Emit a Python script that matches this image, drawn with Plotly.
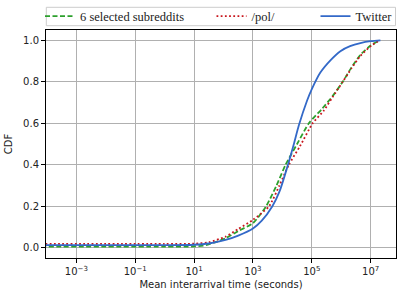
import plotly.graph_objects as go

# log10 of mean interarrival time (seconds) and CDF values
sub_exp = [-4.2, 0.0, 1.0, 1.4, 1.8, 2.07, 2.5, 3.0, 3.45, 3.8, 4.11, 4.5, 4.9, 5.35, 5.7, 6.05, 6.35, 6.65, 7.0, 7.3]
sub_cdf = [0.005, 0.005, 0.006, 0.012, 0.03, 0.045, 0.08, 0.118, 0.2, 0.3, 0.4, 0.5, 0.6, 0.67, 0.73, 0.8, 0.87, 0.93, 0.975, 1.0]

pol_exp = [-4.2, 0.0, 1.0, 1.5, 2.07, 2.5, 3.0, 3.55, 3.9, 4.22, 4.6, 5.03, 5.4, 5.7, 6.05, 6.35, 6.65, 7.0, 7.3]
pol_cdf = [0.018, 0.018, 0.019, 0.026, 0.053, 0.09, 0.134, 0.2, 0.3, 0.4, 0.49, 0.6, 0.66, 0.725, 0.8, 0.865, 0.925, 0.972, 1.0]

tw_exp = [-4.2, 0.0, 1.0, 1.5, 2.07, 2.5, 3.0, 3.3, 3.66, 3.9, 4.19, 4.4, 4.56, 4.84, 5.0, 5.29, 5.64, 5.97, 6.3, 6.65, 7.0, 7.33]
tw_cdf = [0.012, 0.012, 0.014, 0.02, 0.037, 0.058, 0.092, 0.13, 0.2, 0.27, 0.4, 0.505, 0.59, 0.71, 0.765, 0.845, 0.905, 0.948, 0.972, 0.987, 0.996, 1.0]

tick_exp = [-3, -1, 1, 3, 5, 7]
tick_text = ["10<sup>−3</sup>", "10<sup>−1</sup>", "10<sup>1</sup>", "10<sup>3</sup>", "10<sup>5</sup>", "10<sup>7</sup>"]
y_ticks = [0.0, 0.2, 0.4, 0.6, 0.8, 1.0]

names = ["6 selected subreddits", "/pol/", "Twitter"]
colors = ["#2ca02c", "#c8161d", "#3369c8"]

fig = go.Figure()
fig.add_trace(go.Scatter(x=[10 ** e for e in sub_exp], y=sub_cdf, mode="lines", name=names[0],
                         line=dict(color=colors[0], width=1.8, dash="5px,2.5px", shape="spline", smoothing=0.6),
                         legend="legend", showlegend=True))
fig.add_trace(go.Scatter(x=[10 ** e for e in pol_exp], y=pol_cdf, mode="lines", name=names[1],
                         line=dict(color=colors[1], width=1.8, dash="1.8px,2.4px", shape="spline", smoothing=0.6),
                         legend="legend2", showlegend=True))
fig.add_trace(go.Scatter(x=[10 ** e for e in tw_exp], y=tw_cdf, mode="lines", name=names[2],
                         line=dict(color=colors[2], width=1.8, shape="spline", smoothing=0.85),
                         legend="legend3", showlegend=True))

L, R, T, B = 45.7, 396.0, 30.0, 258.0
W, H = 407, 299
pw, ph = R - L, B - T

def px_x(p):
    return (p - L) / pw

def px_y(p):
    return (B - p) / ph

leg_font = dict(family="Liberation Serif, Times New Roman, serif", size=12.5, color="#222")
leg_common = dict(orientation="h", bgcolor="rgba(0,0,0,0)", borderwidth=0, font=leg_font,
                  xref="container", yref="container",
                  yanchor="middle", xanchor="left", y=1 - 16.5 / H)

fig.update_layout(
    width=W, height=H,
    margin=dict(l=L, r=W - R, t=T, b=H - B, pad=0, autoexpand=False),
    paper_bgcolor="white", plot_bgcolor="white",
    font=dict(family="DejaVu Sans", size=10, color="#222"),
    showlegend=True,
    legend=dict(x=40 / W, **leg_common),
    legend2=dict(x=211.5 / W, **leg_common),
    legend3=dict(x=315.5 / W, **leg_common),
    xaxis=dict(type="log", range=[-4.03, 7.86], tickvals=[10 ** e for e in tick_exp], ticktext=tick_text,
               showgrid=True, gridcolor="#b0b0b0", gridwidth=1,
               showline=True, linecolor="black", linewidth=1, mirror=True,
               ticks="outside", ticklen=4, tickcolor="black",
               title=dict(text="Mean interarrival time (seconds)", standoff=4, font=dict(size=10)),
               tickfont=dict(size=10), zeroline=False),
    yaxis=dict(range=[-0.05, 1.05], tickvals=y_ticks, ticktext=[f"{v:.1f}" for v in y_ticks],
               showgrid=True, gridcolor="#b0b0b0", gridwidth=1,
               showline=True, linecolor="black", linewidth=1, mirror=True,
               ticks="outside", ticklen=4, tickcolor="black",
               title=dict(text="CDF", standoff=8, font=dict(size=10)),
               tickfont=dict(size=10), zeroline=False),
    shapes=[dict(type="rect", xref="paper", yref="paper",
                 x0=px_x(46), x1=px_x(395.5), y0=px_y(25.7), y1=px_y(7.3),
                 line=dict(color="#cccccc", width=1), fillcolor="rgba(0,0,0,0)", layer="above")],
)

fig.write_html("out.html", config={"displayModeBar": False},
               post_script="document.body.style.margin='0';document.body.style.padding='0';")
